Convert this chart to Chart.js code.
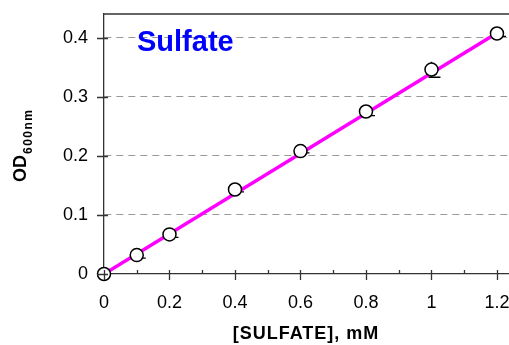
<!DOCTYPE html>
<html>
<head>
<meta charset="utf-8">
<script src="https://cdn.jsdelivr.net/npm/chart.js@4.4.1/dist/chart.umd.min.js"></script>
<style>
  html, body { margin: 0; padding: 0; background: #fff; overflow: hidden; }
  canvas { display: block; }
</style>
</head>
<body>
<canvas id="chart" width="514" height="345"></canvas>
<script>
// values
const concentration = [0, 0.1, 0.2, 0.4, 0.6, 0.8, 1.0, 1.2];
const od600 = [0, 0.032, 0.067, 0.143, 0.208, 0.275, 0.346, 0.407];
const odErr = [0, 0.005, 0.005, 0.004, 0.003, 0.007, 0.013, 0.005];
const fitX = [0, 1.2];
const fitY = [0, 0.408];

const yTicks = [0, 0.1, 0.2, 0.3, 0.4];
const xMajorTicks = [0, 0.2, 0.4, 0.6, 0.8, 1.0, 1.2];
const xMinorTicks = [0.1, 0.3, 0.5, 0.7, 0.9, 1.1];

const FONT = "'Liberation Sans', Arial, sans-serif";

// tick marks crossing the axes, error bars, titles
const decorations = {
  id: "decorations",
  beforeDatasetsDraw(chart) {
    const { ctx, scales: { x, y } } = chart;
    ctx.save();
    ctx.strokeStyle = "#000";
    ctx.lineWidth = 1.3;
    concentration.forEach((c, i) => {
      if (!odErr[i]) return;
      const px = x.getPixelForValue(c);
      const lo = y.getPixelForValue(od600[i] - odErr[i]);
      const hi = y.getPixelForValue(od600[i] + odErr[i]);
      ctx.beginPath();
      ctx.moveTo(px, hi); ctx.lineTo(px, lo);
      ctx.moveTo(px - 3, lo); ctx.lineTo(px + 9, lo);
      ctx.stroke();
    });
    ctx.restore();
  },
  afterDraw(chart) {
    const { ctx, chartArea: a, scales: { x, y } } = chart;
    ctx.save();
    ctx.strokeStyle = "#333";
    ctx.lineWidth = 1.3;
    ctx.beginPath();
    ctx.moveTo(a.left, a.top); ctx.lineTo(a.right, a.top);
    yTicks.forEach(v => {
      const py = Math.round(y.getPixelForValue(v)) + 0.5;
      ctx.moveTo(a.left - 7, py); ctx.lineTo(a.left + 4, py);
    });
    xMajorTicks.forEach(v => {
      const px = Math.round(x.getPixelForValue(v)) + 0.5;
      ctx.moveTo(px, a.bottom - 4); ctx.lineTo(px, a.bottom + 6);
    });
    xMinorTicks.forEach(v => {
      const px = Math.round(x.getPixelForValue(v)) + 0.5;
      ctx.moveTo(px, a.bottom - 4); ctx.lineTo(px, a.bottom);
    });
    ctx.stroke();

    // panel label
    ctx.fillStyle = "#0000ff";
    ctx.font = "bold 29px " + FONT;
    ctx.textBaseline = "alphabetic";
    ctx.fillText("Sulfate", 137, 51);

    // x title
    ctx.fillStyle = "#000";
    ctx.font = "bold 18px " + FONT;
    ctx.letterSpacing = "1px";
    ctx.textAlign = "center";
    ctx.fillText("[SULFATE], mM", 306, 339);

    // y title with subscript
    ctx.translate(26, 182);
    ctx.rotate(-Math.PI / 2);
    ctx.textAlign = "left";
    ctx.letterSpacing = "0px";
    ctx.font = "bold 18px " + FONT;
    ctx.fillText("OD", 0, 0);
    const w = ctx.measureText("OD").width;
    ctx.font = "bold 12px " + FONT;
    ctx.letterSpacing = "1.5px";
    ctx.fillText("600nm", w + 1, 6);
    ctx.restore();
  }
};

new Chart(document.getElementById("chart"), {
  type: "scatter",
  data: {
    datasets: [
      {
        label: "fit",
        data: fitX.map((v, i) => ({ x: v, y: fitY[i] })),
        showLine: true,
        borderColor: "#ff00ff",
        borderWidth: 3.5,
        pointRadius: 0,
        order: 2
      },
      {
        label: "OD600",
        data: concentration.map((v, i) => ({ x: v, y: od600[i] })),
        pointRadius: 6.5,
        pointBorderWidth: 1.5,
        pointBorderColor: "#000",
        pointBackgroundColor: "#fff",
        clip: false,
        order: 1
      }
    ]
  },
  plugins: [decorations],
  options: {
    responsive: false,
    animation: false,
    devicePixelRatio: 1,
    layout: { autoPadding: false, padding: { top: 14, left: 0, right: 0, bottom: 0 } },
    plugins: { legend: { display: false }, tooltip: { enabled: false } },
    scales: {
      x: {
        min: 0,
        max: 1.252,
        afterFit: s => { s.height = 71; },
        afterBuildTicks: s => { s.ticks = xMajorTicks.map(v => ({ value: v })); },
        grid: { display: false, drawTicks: true, tickLength: 18, tickColor: "transparent" },
        border: { display: true, color: "#333", width: 1.3 },
        ticks: {
          padding: 0,
          color: "#000",
          font: { family: FONT, size: 18 },
          maxRotation: 0,
          callback: v => String(Math.round(v * 10) / 10)
        }
      },
      y: {
        min: 0,
        max: 0.44,
        afterFit: s => { s.width = 104; },
        afterBuildTicks: s => { s.ticks = yTicks.map(v => ({ value: v })); },
        grid: {
          drawTicks: true,
          tickLength: 16,
          tickColor: "transparent",
          color: ctx => (ctx.tick && ctx.tick.value > 0 ? "#999" : "transparent"),
          lineWidth: 1
        },
        border: { display: true, color: "#333", width: 1.3, dash: [7, 5] },
        ticks: {
          padding: 0,
          color: "#000",
          font: { family: FONT, size: 18 },
          callback: v => String(Math.round(v * 10) / 10)
        }
      }
    }
  }
});
</script>
</body>
</html>
